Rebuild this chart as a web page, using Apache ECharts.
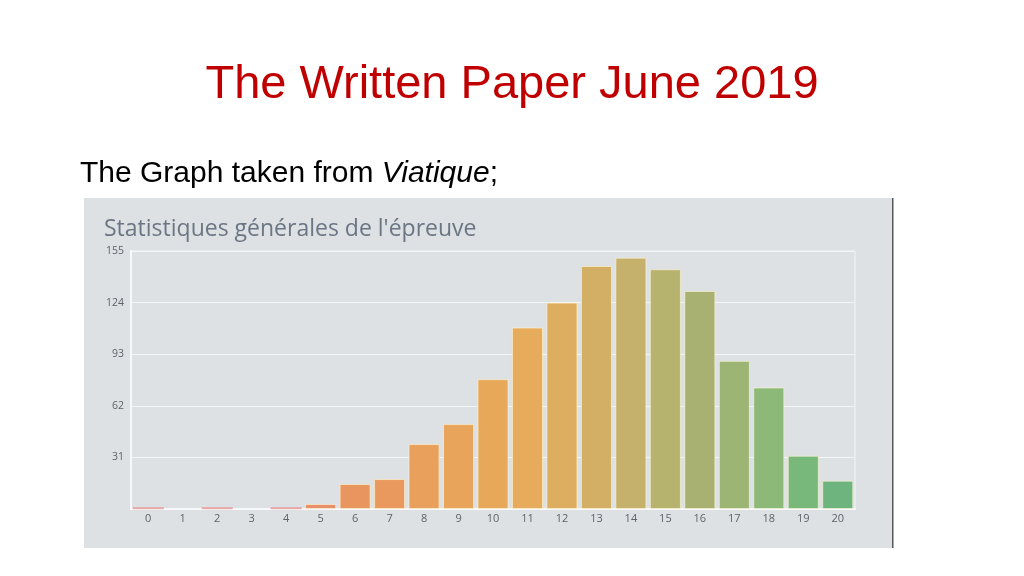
<!DOCTYPE html>
<html>
<head>
<meta charset="utf-8">
<style>
  html, body { margin: 0; padding: 0; background: #ffffff; }
  #chart { width: 1024px; height: 576px; }
</style>
<script src="https://cdn.jsdelivr.net/npm/echarts@6/dist/echarts.min.js"></script>
</head>
<body>
<div id="chart"></div>
<script>
// ---- data ----
const categories = ['0','1','2','3','4','5','6','7','8','9','10','11','12','13','14','15','16','17','18','19','20'];
const counts = [1, 0, 1, 0, 1, 3, 15, 18, 39, 51, 78, 109, 124, 146, 151, 144, 131, 89, 73, 32, 17];
const yTicks = [0, 31, 62, 93, 124, 155];

// ---- styles ----
const barPalette = [
  '#e89898', '#e89898', '#e89898', '#e89898', '#e89898',
  '#e8906a', '#e9955f', '#e9995e', '#e9a05c', '#e8a45b',
  '#e7a85a', '#e6ab5b', '#ddae5f', '#d3af66', '#c5b16b',
  '#b6b36e', '#a8b171', '#9cb575', '#8cb978', '#79b87b', '#6db47e'
];
const barEdge = 'rgba(255,246,214,0.6)';

const chart = echarts.init(document.getElementById('chart'));
chart.setOption({
  backgroundColor: '#ffffff',
  animation: false,
  title: [
    {
      text: 'The Written Paper June 2019',
      left: 'center',
      top: 62,
      padding: 0,
      textStyle: { color: '#c00000', fontFamily: 'Liberation Sans, Arial, sans-serif', fontSize: 47, fontWeight: 'normal' }
    },
    {
      text: 'The Graph taken from {i|Viatique};',
      left: 80,
      top: 159,
      padding: 0,
      textStyle: {
        color: '#000000', fontFamily: 'Liberation Sans, Arial, sans-serif', fontSize: 30, fontWeight: 'normal',
        rich: { i: { fontStyle: 'italic', fontFamily: 'Liberation Sans, Arial, sans-serif', fontSize: 30, color: '#000000' } }
      }
    },
    {
      text: "Statistiques générales de l'épreuve",
      left: 104,
      top: 218,
      padding: 0,
      textStyle: { color: '#6b7684', fontFamily: 'Open Sans, sans-serif', fontSize: 23, fontWeight: 'normal' }
    }
  ],
  graphic: [
    { type: 'rect', z: -10, shape: { x: 84, y: 198, width: 809, height: 350 }, style: { fill: '#dde1e4' } },
    { type: 'rect', z: -9, shape: { x: 892, y: 198, width: 1.5, height: 350 }, style: { fill: '#55595e' } }
  ],
  grid: {
    left: 131, right: 169, top: 251, bottom: 67,
    show: true, borderColor: '#f3f5f6', borderWidth: 1, backgroundColor: 'transparent'
  },
  xAxis: {
    type: 'category',
    data: categories,
    axisTick: { show: false },
    axisLine: { lineStyle: { color: '#f7f8f9', width: 2 } },
    axisLabel: { color: '#5f6367', fontSize: 11, fontFamily: 'Open Sans, sans-serif', margin: 4 }
  },
  yAxis: {
    type: 'value',
    min: yTicks[0],
    max: yTicks[yTicks.length - 1],
    interval: yTicks[1] - yTicks[0],
    axisLine: { show: true, lineStyle: { color: '#f7f8f9', width: 2 } },
    axisTick: { show: false },
    splitLine: { lineStyle: { color: '#f3f5f6', width: 1 } },
    axisLabel: {
      color: '#5f6367', fontSize: 10.5, fontFamily: 'Open Sans, sans-serif', margin: 7,
      formatter: v => (v === 0 ? '' : String(v))
    }
  },
  series: [{
    type: 'bar',
    z: 3,
    data: counts.map((v, i) => ({
      value: v,
      itemStyle: {
        color: barPalette[i],
        borderColor: v < 2 ? barPalette[i] : barEdge,
        borderWidth: v === 0 ? 0 : (v < 2 ? 0.5 : 1)
      }
    })),
    barCategoryGap: '10%'
  }]
});
</script>
</body>
</html>
